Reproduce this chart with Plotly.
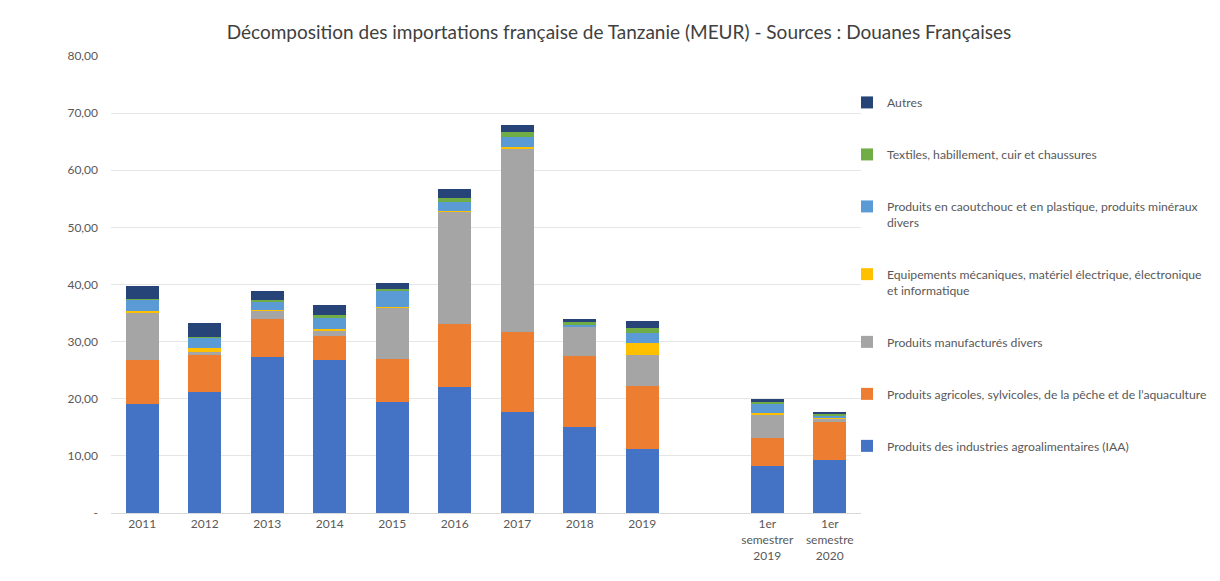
import plotly.graph_objects as go

categories = ["2011", "2012", "2013", "2014", "2015", "2016", "2017", "2018", "2019",
              " ", "1er<br>semestrer<br>2019", "1er<br>semestre<br>2020"]

iaa      = [19.1, 21.2, 27.3, 26.7, 19.5, 22.1, 17.6, 15.1, 11.2, None, 8.2, 9.3]
agri     = [7.6, 6.5, 6.6, 4.2, 7.4, 10.9, 14.0, 12.4, 11.1, None, 5.0, 6.6]
manuf    = [8.4, 0.5, 1.5, 1.1, 9.1, 19.7, 32.2, 5.1, 5.4, None, 4.0, 0.6]
equip    = [0.3, 0.6, 0.2, 0.2, 0.1, 0.2, 0.2, 0.05, 2.0, None, 0.3, 0.15]
caout    = [1.9, 1.9, 1.5, 2.1, 2.7, 1.6, 1.9, 0.25, 1.8, None, 1.7, 0.4]
textile  = [0.2, 0.1, 0.2, 0.3, 0.5, 0.7, 0.8, 0.45, 0.8, None, 0.2, 0.3]
autres   = [2.3, 2.4, 1.6, 1.8, 1.0, 1.6, 1.3, 0.65, 1.3, None, 0.6, 0.4]

series = [
    ("Produits des industries agroalimentaires (IAA)", iaa, "#4472C4"),
    ("Produits agricoles, sylvicoles, de la pêche et de l’aquaculture", agri, "#ED7D31"),
    ("Produits manufacturés divers", manuf, "#A5A5A5"),
    ("Equipements mécaniques, matériel électrique, électronique<br>et informatique", equip, "#FFC000"),
    ("Produits en caoutchouc et en plastique, produits minéraux<br>divers", caout, "#5B9BD5"),
    ("Textiles, habillement, cuir et chaussures", textile, "#70AD47"),
    ("Autres", autres, "#264478"),
]

y_ticks = [0, 10, 20, 30, 40, 50, 60, 70, 80]
y_tick_text = ["-", "10,00", "20,00", "30,00", "40,00", "50,00", "60,00", "70,00", "80,00"]

n = len(series)
fig = go.Figure()
for i, (name, vals, color) in enumerate(series):
    fig.add_trace(go.Bar(
        x=categories, y=vals, name=name, legendgroup=f"g{i}",
        legendrank=n - i,
        marker=dict(color=color, line=dict(width=0)),
    ))

W, H = 1212, 573
L, T = 103, 48
PW, PH = 750, 457
font_family = "Lato, 'Open Sans', sans-serif"
fig.update_layout(
    barmode="stack",
    bargap=0.47,
    width=W, height=H,
    margin=dict(l=L, r=W - L - PW, t=T, b=H - T - PH, autoexpand=False),
    paper_bgcolor="white", plot_bgcolor="white",
    font=dict(family=font_family, color="#595959", size=12),
    title=dict(
        text="Décomposition des importations française de Tanzanie (MEUR) - Sources : Douanes Françaises",
        x=(619 - 8) / W, xref="container", xanchor="center",
        y=1 - 24 / H, yref="container", yanchor="middle",
        font=dict(size=19, color="#404040", family=font_family),
    ),
    xaxis=dict(
        type="category", categoryorder="array", categoryarray=categories,
        showgrid=False, showline=True, linecolor="#d9d9d9", linewidth=1,
        ticks="", tickfont=dict(size=12, color="#595959"),
        tickangle=0,
    ),
    yaxis=dict(
        range=[0, 80], tickvals=y_ticks, ticktext=y_tick_text,
        showgrid=True, gridcolor="#e6e6e6", gridwidth=1,
        zeroline=False, showline=False, ticks="",
        tickfont=dict(size=12, color="#595959"),
        ticklabelstandoff=12,
    ),
    legend=dict(
        xref="container", x=839 / W, xanchor="left",
        y=1 - (95 - 56 - 7) / PH, yanchor="top",
        traceorder="grouped",
        tracegroupgap=33,
        valign="top",
        font=dict(size=12.2, color="#595959", family=font_family),
        bgcolor="rgba(0,0,0,0)",
        itemwidth=30,
    ),
)

fig.write_html("out.html")
